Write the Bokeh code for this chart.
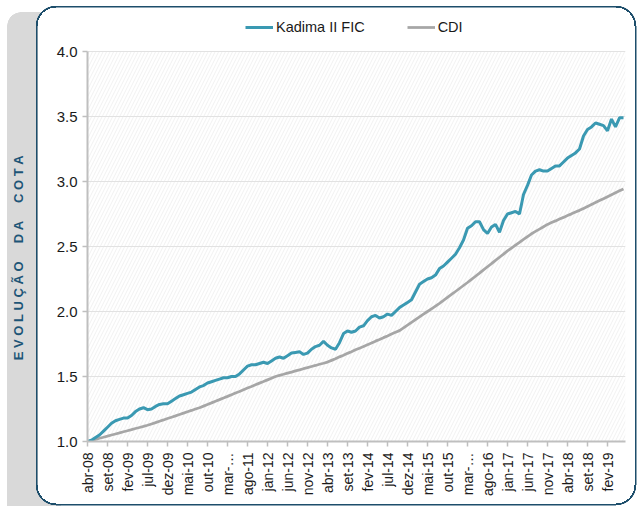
import numpy as np
from bokeh.plotting import figure
from bokeh.models import (BoxAnnotation, FixedTicker, Range1d, Legend,
                          LegendItem, NumeralTickFormatter)
from bokeh.embed import file_html
from bokeh.resources import INLINE

# ---- data (month index 0 = abr-08) ----
months = list(range(135))
kadima = [
    1.00, 1.01, 1.03, 1.05, 1.08, 1.11, 1.14, 1.16, 1.17, 1.18, 1.18,
    1.20, 1.23, 1.25, 1.26, 1.245, 1.25, 1.27, 1.285, 1.29, 1.29,
    1.31, 1.33, 1.35, 1.36, 1.37, 1.38, 1.40, 1.42, 1.43, 1.45,
    1.46, 1.47, 1.48, 1.49, 1.49, 1.50, 1.50, 1.52, 1.55, 1.58,
    1.59, 1.59, 1.60, 1.61, 1.60, 1.62, 1.64, 1.65, 1.64, 1.66,
    1.68, 1.685, 1.69, 1.67, 1.68, 1.71, 1.73, 1.74, 1.77, 1.74,
    1.72, 1.71, 1.76, 1.83, 1.85, 1.84, 1.85, 1.88, 1.89, 1.93,
    1.96, 1.97, 1.95, 1.96, 1.98, 1.97, 2.00, 2.03, 2.05, 2.07,
    2.09, 2.15, 2.21, 2.23, 2.25, 2.26, 2.28, 2.33, 2.35, 2.38,
    2.41, 2.44, 2.49, 2.55, 2.64, 2.66, 2.69, 2.69, 2.63, 2.60,
    2.65, 2.67, 2.61, 2.70, 2.75, 2.76, 2.77, 2.75, 2.90, 2.97,
    3.05, 3.08, 3.09, 3.08, 3.08, 3.10, 3.12, 3.12, 3.15, 3.18,
    3.20, 3.22, 3.25, 3.35, 3.40, 3.42, 3.45, 3.44, 3.43, 3.39,
    3.48, 3.42, 3.49, 3.49,
]
cdi = [
    1.000, 1.008, 1.016, 1.025, 1.033, 1.041, 1.050, 1.058, 1.066, 1.075, 1.083,
    1.091, 1.100, 1.108, 1.116, 1.125, 1.135, 1.145, 1.156, 1.166, 1.177,
    1.187, 1.197, 1.208, 1.218, 1.229, 1.239, 1.250, 1.260, 1.272, 1.285,
    1.297, 1.310, 1.322, 1.335, 1.347, 1.360, 1.373, 1.385, 1.398, 1.411,
    1.423, 1.436, 1.449, 1.461, 1.474, 1.487, 1.500, 1.509, 1.517, 1.526,
    1.534, 1.543, 1.551, 1.560, 1.568, 1.577, 1.585, 1.594, 1.602, 1.611,
    1.624, 1.637, 1.651, 1.664, 1.678, 1.691, 1.705, 1.718, 1.731, 1.745,
    1.758, 1.772, 1.785, 1.799, 1.812, 1.826, 1.840, 1.853, 1.874, 1.895,
    1.916, 1.937, 1.958, 1.979, 2.000, 2.021, 2.042, 2.063, 2.085, 2.108,
    2.131, 2.154, 2.177, 2.200, 2.223, 2.247, 2.271, 2.295, 2.320, 2.344,
    2.368, 2.393, 2.417, 2.441, 2.466, 2.488, 2.510, 2.532, 2.554, 2.576,
    2.598, 2.616, 2.634, 2.652, 2.670, 2.684, 2.697, 2.711, 2.724, 2.738,
    2.751, 2.765, 2.778, 2.793, 2.808, 2.823, 2.838, 2.853, 2.868, 2.883,
    2.898, 2.913, 2.928, 2.943,
]
tick_months = list(range(0, 131, 5))
tick_labels = ["abr-08", "set-08", "fev-09", "jul-09", "dez-09", "mai-10",
               "out-10", "mar-…", "ago-11", "jan-12", "jun-12", "nov-12",
               "abr-13", "set-13", "fev-14", "jul-14", "dez-14", "mai-15",
               "out-15", "mar-…", "ago-16", "jan-17", "jun-17", "nov-17",
               "abr-18", "set-18", "fev-19"]
y_ticks = [1.0, 1.5, 2.0, 2.5, 3.0, 3.5, 4.0]
series_names = ["Kadima II FIC", "CDI"]
y_title = "EVOLUÇÃO DA COTA"

NB = "\u00a0"
spaced_title = (NB * 5).join(NB.join(w) for w in y_title.split(" ")) + NB * 19

FONT = "Liberation Sans"
TEAL = "#3a99b2"
GRAY = "#a6a6a6"
BORDER = "#1d4e6b"
STRIP = "#d9d9d9"


def solid(c):
    return f"linear-gradient({c},{c})"


def arc(cx, cy):
    return (f"radial-gradient(circle at {cx}px {cy}px, #ffffff 0 18.5px, "
            f"{BORDER} 18.5px 20px, transparent 20.5px)")


layers = [
    f"{arc(20, 20)} 36px 6px / 20px 20px no-repeat",
    f"{arc(0, 20)} 616px 6px / 20px 20px no-repeat",
    f"{arc(0, 0)} 616px 485px / 20px 20px no-repeat",
    f"{arc(20, 0)} 36px 485px / 20px 20px no-repeat",
    f"{solid(BORDER)} 56px 6px / 560px 1.5px no-repeat",
    f"{solid(BORDER)} 56px 503.5px / 560px 1.5px no-repeat",
    f"{solid(BORDER)} 36px 26px / 1.5px 459px no-repeat",
    f"{solid(BORDER)} 634.5px 26px / 1.5px 459px no-repeat",
    f"{solid('#ffffff')} 37.5px 26px / 597px 459px no-repeat",
    f"{solid('#ffffff')} 56px 7.5px / 560px 496px no-repeat",
    (f"radial-gradient(circle at 14px 14px, {STRIP} 0 13.5px, transparent 14px) "
     f"7px 12px / 14px 14px no-repeat"),
    f"{solid(STRIP)} 21px 12px / 40px 14px no-repeat",
    f"{solid(STRIP)} 7px 26px / 54px 480px no-repeat",
]

# frame spans page y 5..441; value 4.0 must sit at y=51, 130 px per unit
FRAME_TOP = 5
y_end = 4.0 + (51 - FRAME_TOP) / 130.0

p = figure(width=637, height=506, output_backend="svg", toolbar_location=None,
           x_range=Range1d(0, 134.5), y_range=Range1d(1.0, y_end),
           min_border_left=87, min_border_right=12, min_border_top=FRAME_TOP,
           min_border_bottom=65)
p.styles = {"background": ", ".join(layers) + ", #ffffff"}
p.border_fill_color = None
p.background_fill_color = None
p.outline_line_color = None

hatch = BoxAnnotation(top=4.0, fill_color="white", fill_alpha=1.0,
                      line_color=None, hatch_pattern="/",
                      hatch_color="#eeeeee", hatch_scale=7, hatch_weight=0.8,
                      hatch_alpha=1.0, level="image")
p.add_layout(hatch)

r2 = p.line(months, cdi, line_color=GRAY, line_width=2.75)
r1 = p.line(months, kadima, line_color=TEAL, line_width=3)

# axes
xa = p.xaxis[0]
xa.ticker = FixedTicker(ticks=tick_months)
xa.major_label_overrides = {m: l for m, l in zip(tick_months, tick_labels)}
xa.major_label_orientation = np.pi / 2
xa.minor_tick_line_color = None
xa.major_tick_in = 0
xa.major_tick_out = 5
xa.major_label_standoff = 6
xa.axis_line_color = "#bfbfbf"
xa.axis_line_width = 2
xa.major_tick_line_color = "#bfbfbf"
xa.major_tick_line_width = 1.5
xa.major_label_text_font = FONT
xa.major_label_text_font_size = "14px"
xa.major_label_text_color = "#1a1a1a"

ya = p.yaxis[0]
ya.bounds = (1.0, 4.0)
ya.ticker = FixedTicker(ticks=y_ticks)
ya.formatter = NumeralTickFormatter(format="0.0")
ya.minor_tick_line_color = None
ya.major_tick_in = 0
ya.major_tick_out = 5
ya.major_label_standoff = 5
ya.axis_line_color = "#bfbfbf"
ya.axis_line_width = 2
ya.major_tick_line_color = "#bfbfbf"
ya.major_tick_line_width = 1.5
ya.major_label_text_font = FONT
ya.major_label_text_font_size = "15px"
ya.major_label_text_color = "#1a1a1a"
ya.axis_label = spaced_title
ya.axis_label_text_font = FONT
ya.axis_label_text_font_style = "bold"
ya.axis_label_text_font_size = "13px"
ya.axis_label_text_color = "#1d5577"
ya.axis_label_standoff = 28

p.xgrid.visible = False
p.ygrid.ticker = FixedTicker(ticks=y_ticks)
p.ygrid.grid_line_color = "#e2e2e2"
p.ygrid.grid_line_width = 1.2

# legend inside the (tall) frame, above the 4.0 line
legend = Legend(items=[LegendItem(label=series_names[0], renderers=[r1]),
                       LegendItem(label=series_names[1], renderers=[r2])],
                location=(158, 404), orientation="horizontal",
                glyph_width=28, glyph_height=20, label_height=20,
                label_standoff=3, spacing=42, padding=0, margin=0,
                border_line_color=None, background_fill_alpha=0.0,
                label_text_font=FONT, label_text_font_size="14.5px",
                label_text_color="#1a1a1a")
p.add_layout(legend)

open("out.html", "w").write(file_html(p, INLINE))
